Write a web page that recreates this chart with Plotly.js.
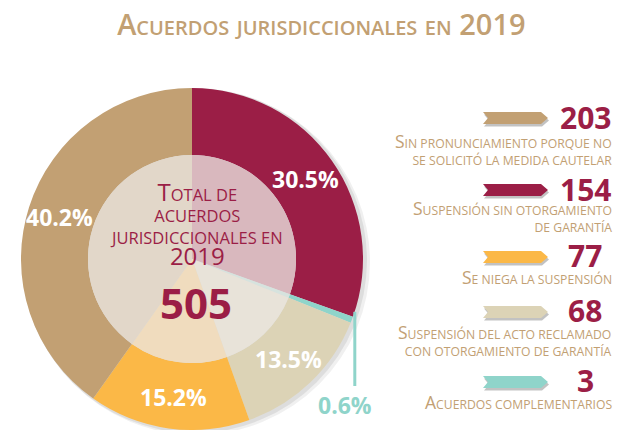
<!DOCTYPE html>
<html><head><meta charset="utf-8">
<script src="https://cdn.plot.ly/plotly-3.0.1.min.js"></script>
<style>html,body{margin:0;padding:0;background:#fff}#chart{width:618px;height:430px}</style>
</head><body><div id="chart"></div>
<script>
// ---- data ----
const categories = [
  "Sin pronunciamiento porque no\nse solicitó la medida cautelar",
  "Suspensión sin otorgamiento\nde garantía",
  "Se niega la suspensión",
  "Suspensión del acto reclamado\ncon otorgamiento de garantía",
  "Acuerdos complementarios"
];
const counts = [203, 154, 77, 68, 3];
const colors = ["#C2A073", "#9B1E46", "#FBB847", "#DCD3B6", "#8FD4CA"];
const pieOrder = [1, 4, 3, 2, 0];           // clockwise from 12 o'clock
const centerTitle = "Total de\nacuerdos\njurisdiccionales en\n2019";
const chartTitle = "Acuerdos jurisdiccionales en 2019";

// ---- layout helpers ----
const W = 618, H = 430;
const cx = 192, cy = 259, R = 171, r = 104;
const FONT = "Open Sans";
const TAN = "#C2A073", MAROON = "#9B1E46";
const px = x => x / W, py = y => 1 - y / H;
const total = counts.reduce((a, b) => a + b, 0);

function blend(hex, a) {
  const n = parseInt(hex.slice(1), 16);
  const t = [236, 232, 228];
  const c = [(n >> 16) & 255, (n >> 8) & 255, n & 255].map((v, k) => Math.round(v + (t[k] - v) * a));
  return `rgb(${c[0]},${c[1]},${c[2]})`;
}
// small caps rendering: capitals/digits at `big`, other letters uppercased at `small`
function sc(str, big, small) {
  return str.split("\n").map(line => {
    let out = "", run = "", runBig = null;
    const flush = () => { if (run) out += `<span style="font-size:${runBig ? big : small}px">${run}</span>`; run = ""; };
    for (const ch of line) {
      const isBig = (ch !== ch.toLowerCase()) || /[0-9]/.test(ch);
      const b = ch === " " ? (runBig === null ? false : runBig) : isBig;
      if (runBig !== null && b !== runBig) flush();
      runBig = b; run += ch.toUpperCase();
    }
    flush();
    return out;
  }).join("<br>");
}

const pVals = pieOrder.map(i => counts[i]);
const pLabels = pieOrder.map(i => categories[i].replace("\n", " "));
const pColors = pieOrder.map(i => colors[i]);
const smallIdx = counts.indexOf(Math.min(...counts));

const outer = {
  type: "pie", values: pVals, labels: pLabels, sort: false, direction: "clockwise", rotation: 0,
  hole: r / R, marker: { colors: pColors, line: { width: 0 } },
  domain: { x: [px(cx - R), px(cx + R)], y: [py(cy + R), py(cy - R)] },
  textinfo: "none", hoverinfo: "skip", showlegend: false
};
const inner = {
  type: "pie", values: pVals, labels: pLabels, sort: false, direction: "clockwise", rotation: 0,
  marker: { colors: pColors.map(c => blend(c, 0.76)), line: { width: 0 } },
  domain: { x: [px(cx - r), px(cx + r)], y: [py(cy + r), py(cy - r)] },
  textinfo: "none", hoverinfo: "skip", showlegend: false
};

const annotations = [];
const shapes = [];

// pie shadow
shapes.push({ type: "circle", xref: "paper", yref: "paper", layer: "below",
  x0: px(cx - R + 2), x1: px(cx + R + 7), y0: py(cy + R + 5), y1: py(cy - R + 1),
  fillcolor: "rgba(0,0,0,0.06)", line: { width: 0 } });
shapes.push({ type: "circle", xref: "paper", yref: "paper", layer: "below",
  x0: px(cx - R + 1), x1: px(cx + R + 4), y0: py(cy + R + 3), y1: py(cy - R),
  fillcolor: "rgba(0,0,0,0.08)", line: { width: 0 } });

// percentage labels, placed at each slice's mid-angle inside the ring
let cum = 0;
pieOrder.forEach(i => {
  const th = (cum + counts[i] / 2) / total * 2 * Math.PI;
  cum += counts[i];
  const pct = (counts[i] / total * 100).toFixed(1) + "%";
  if (i === smallIdx) {
    const ex = cx + R * Math.sin(th) + 3, ey = cy - R * Math.cos(th) - 8;
    shapes.push({ type: "line", xref: "paper", yref: "paper", x0: px(ex), x1: px(ex), y0: py(ey), y1: py(386),
      line: { color: colors[i], width: 3 } });
    annotations.push({ xref: "paper", yref: "paper", x: px(ex - 10), y: py(405), xanchor: "center", yanchor: "middle",
      text: "<b>" + pct + "</b>", showarrow: false, font: { family: FONT, size: 23, color: colors[i] } });
  } else {
    const rho = 139;
    annotations.push({ xref: "paper", yref: "paper",
      x: px(cx + rho * Math.sin(th)), y: py(cy - rho * Math.cos(th)), xanchor: "center", yanchor: "middle",
      text: "<b>" + pct + "</b>", showarrow: false, font: { family: FONT, size: 23, color: "#ffffff" } });
  }
});

// center text
annotations.push({ xref: "paper", yref: "paper", x: px(196), y: py(223), xanchor: "center", yanchor: "middle",
  text: sc(centerTitle, 24, 16.5), showarrow: false, align: "center",
  font: { family: FONT, size: 16.5, color: MAROON } });
annotations.push({ xref: "paper", yref: "paper", x: px(196), y: py(302), xanchor: "center", yanchor: "middle",
  text: "<b>" + total + "</b>", showarrow: false, font: { family: FONT, size: 42, color: MAROON } });

// legend
const arrowY = [118, 190, 257, 312, 382];
const numY = [117, 189, 255, 310, 380];
const descY = [148.5, 216.5, 277, 340, 402];
counts.forEach((v, i) => {
  const y = arrowY[i];
  const path = (dx, dy) => {
    const P = [[483, y - 6], [541, y - 6], [548, y], [541, y + 6], [483, y + 6], [488, y]];
    return "M" + P.map(p => px(p[0] + dx) + "," + py(p[1] + dy)).join(" L") + " Z";
  };
  shapes.push({ type: "path", xref: "paper", yref: "paper", path: path(1, 2.5),
    fillcolor: "rgba(120,120,120,0.45)", line: { width: 0 } });
  shapes.push({ type: "path", xref: "paper", yref: "paper", path: path(0, 0),
    fillcolor: colors[i], line: { width: 0 } });
  annotations.push({ xref: "paper", yref: "paper", x: px(585), y: py(numY[i]), xanchor: "center", yanchor: "middle",
    text: "<b>" + v + "</b>", showarrow: false, font: { family: FONT, size: 30, color: MAROON } });
  annotations.push({ xref: "paper", yref: "paper", x: px(614), y: py(descY[i]), xanchor: "right", yanchor: "middle",
    text: sc(categories[i], 17.5, 12.2), showarrow: false, align: "right",
    font: { family: FONT, size: 13, color: TAN } });
});

const layout = {
  width: W, height: H, margin: { l: 0, r: 0, t: 0, b: 0 },
  paper_bgcolor: "#ffffff", plot_bgcolor: "#ffffff", showlegend: false,
  title: { text: chartTitle, x: 0.52, xanchor: "center", y: 1 - 25 / H, yanchor: "middle", yref: "container",
    font: { family: FONT, size: 29, color: TAN, variant: "small-caps", weight: 600 } },
  annotations, shapes
};
Plotly.newPlot("chart", [outer, inner], layout, { displayModeBar: false, staticPlot: true });
</script></body></html>
